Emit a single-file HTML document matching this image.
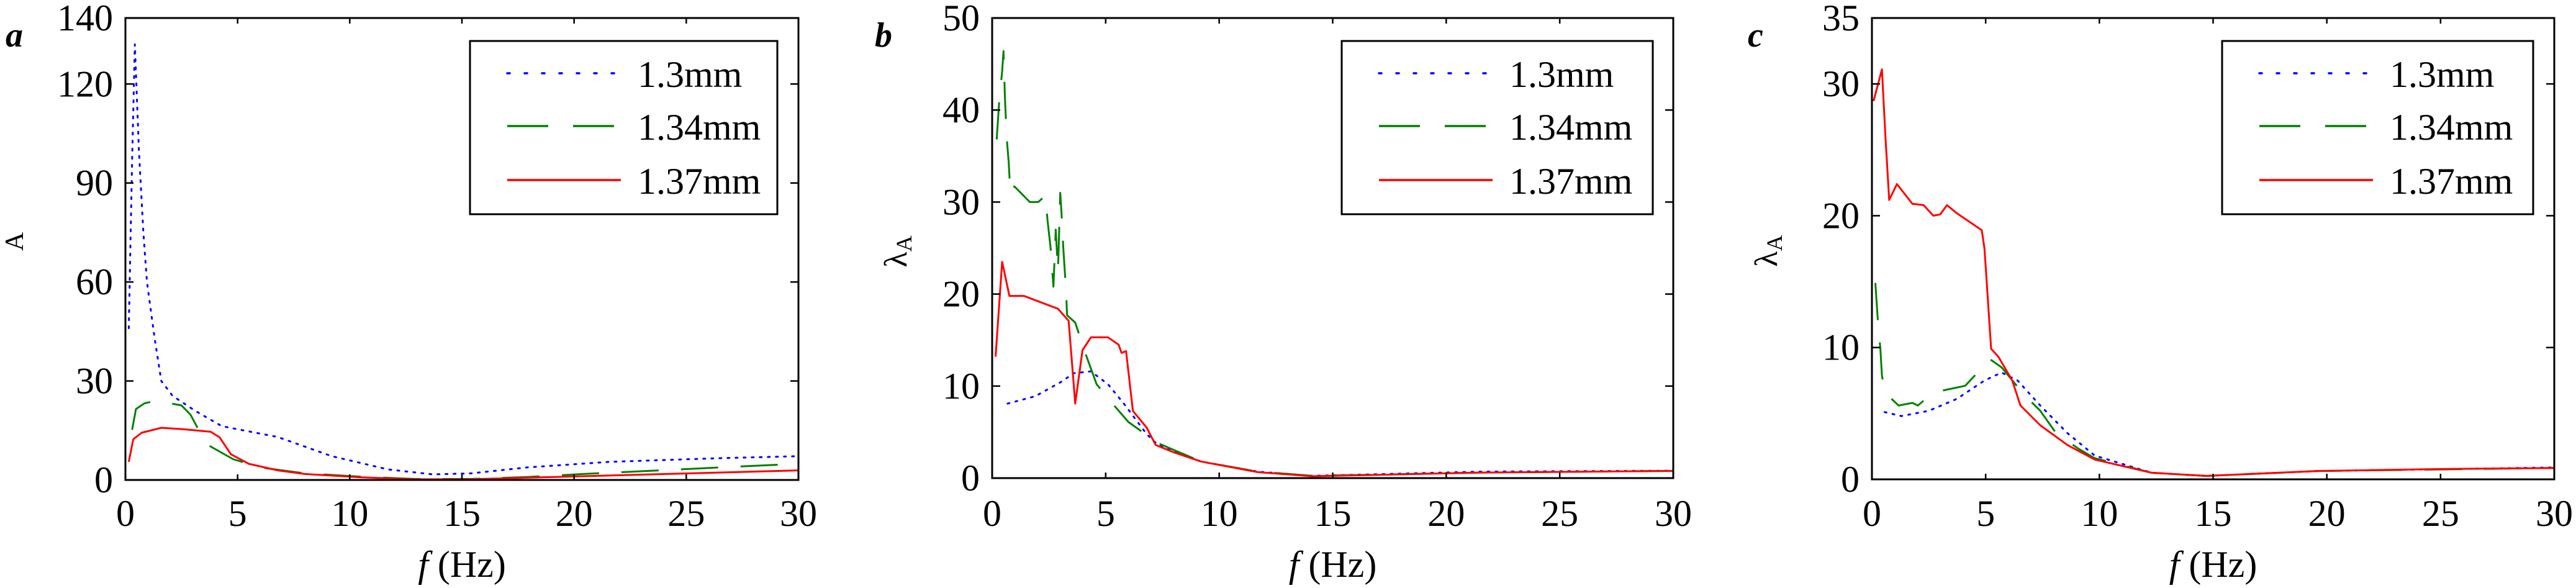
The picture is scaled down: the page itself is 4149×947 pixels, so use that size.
<!DOCTYPE html>
<html><head><meta charset="utf-8"><style>
html,body{margin:0;padding:0;background:#fff;}
svg{display:block;}
svg text{font-family:"Liberation Serif","Times New Roman",serif;}
</style></head><body>
<svg id="fig" width="4149" height="947" viewBox="0 0 4149 947" xmlns="http://www.w3.org/2000/svg" font-family="Liberation Serif, serif"></svg>
<script>
// ---- data (f in Hz, values) ----
const xTicks = [0,5,10,15,20,25,30];
const aYTicks = [0,30,60,90,120,140];
const bYTicks = [0,10,20,30,40,50];
const cYTicks = [0,10,20,30,35];
const seriesNames = ["1.3mm","1.34mm","1.37mm"];

const aBlueX = [0.15,0.3,0.42,0.6,0.8,0.96,1.3,1.6,2.1,3.1,4.3,6.8,9.2,11.7,13.7,15.4,17.9,21.6,26.5,30];
const aBlueY = [46,97,132,100,75,60,43,30,25.5,21,16.3,13,7.2,3.2,1.7,2,3.8,5.5,6.6,7.2];
const aGreenX = [0.3,0.47,0.84,1.33,2.5,2.9,3.6,4.8,6,8,10.5,12.9,15.4,17.9,20.4,24.1,26.5,30];
const aGreenY = [15.2,21.5,23.2,24,22.6,19.8,10.9,6.3,3.8,2,1,0.3,0.3,0.9,1.8,3,3.8,4.9];
const aRedX = [0.15,0.35,0.72,1.6,2.57,3.8,4.2,4.7,5.5,6.8,8,10.5,12.9,15.4,19.1,24.1,30];
const aRedY = [5.5,12.3,14.3,15.8,15.4,14.6,12.9,7.8,4.9,2.9,1.8,0.8,0.2,0.2,0.9,1.8,2.9];

const bBlueX = [0.68,1.9,3,3.6,4.35,5.1,5.8,6.8,7.3,9.2,11.7,14.1,16.6,21.5,30];
const bBlueY = [8.1,8.9,10.4,11.4,11.6,10.2,8.1,4.8,3.6,1.8,0.7,0.25,0.4,0.7,0.8];
const bGreenX = [0.2,0.32,0.44,0.5,0.56,0.64,0.73,0.8,0.98,1.66,2.03,2.35,2.44,2.57,2.7,2.8,2.9,3,3.08,3.13,3.25,3.3,3.66,4.1,4.6,5.3,6,7.3,9.2,11.7,14.1,16.6,21.5,30];
const bGreenY = [36.8,41.3,44.2,46.4,41.5,37,34.3,30.9,31.7,30,30,30.7,28,25.1,20.8,27,22.5,31,27.8,25.1,20.6,17.7,16.9,13.6,10.2,8.1,6.1,3.8,1.8,0.7,0.25,0.35,0.6,0.78];
const bRedX = [0.15,0.44,0.76,1.4,2.9,3.37,3.66,3.98,4.35,5.1,5.57,5.7,5.9,6.2,6.8,7.2,8,9.2,11.7,14.1,16.6,21.5,30];
const bRedY = [13.2,23.5,19.8,19.8,18.4,17.1,8.1,13.9,15.3,15.3,14.5,13.6,13.8,7.3,5.5,3.6,2.8,1.8,0.65,0.2,0.33,0.6,0.78];

const cBlueX = [0.56,1.3,2.5,3.73,4.95,5.7,6.4,7.4,8.6,9.8,12.3,14.7,19.6,30];
const cBlueY = [5.1,4.8,5.2,6.1,7.5,8.1,7.5,5.6,3.5,1.8,0.5,0.26,0.63,0.9];
const cGreenX = [0.15,0.27,0.37,0.44,0.56,1.17,1.78,2.02,2.5,3,4.1,4.7,5.2,5.7,6.65,7.4,8.1,9.1,9.8,12.3,14.7,19.6,30];
const cGreenY = [14.9,11.8,9.9,7.9,6.6,5.6,5.8,5.6,6.3,6.7,7.1,8.2,9.1,8.5,6.5,5.2,3.5,2.3,1.6,0.5,0.26,0.63,0.86];
const cRedX = [0.07,0.44,0.6,0.76,1.1,1.78,2.27,2.7,3,3.3,3.73,4.83,4.95,5.24,5.56,6.17,6.53,7.4,8.6,9.8,12.3,14.7,19.6,24.4,30];
const cRedY = [28.7,31.1,25.8,21.2,22.4,20.9,20.8,20,20.1,20.8,20.2,18.9,17.5,9.9,9.3,7.5,5.6,4.1,2.6,1.5,0.5,0.26,0.63,0.77,0.86];

const NS = "http://www.w3.org/2000/svg";
const svg = document.getElementById("fig");
function mk(tag, attrs, parent){
  const e = document.createElementNS(NS, tag);
  for (const k in attrs) e.setAttribute(k, attrs[k]);
  (parent||svg).appendChild(e);
  return e;
}
function txt(str, x, y, anchor, size, parent){
  const t = mk("text", {x:x, y:y, "text-anchor":anchor, "font-size":size, fill:"#000"}, parent);
  t.textContent = str;
  return t;
}
const styles = [
  {color:"#0000ff", dash:"3 10", cap:"round", w:3},
  {color:"#008000", dash:"60 36", cap:"butt", w:3},
  {color:"#ff0000", dash:"", cap:"butt", w:3}
];

function panel(cfg){
  const g = mk("g", {});
  
  
  const {L,R,T,B,ymax} = cfg;
  const sx = v => L + (v/30)*(R-L);
  const sy = v => B - (v/ymax)*(B-T);
  const cp = mk("clipPath", {id:"clip"+cfg.id}, g);
  mk("rect", {x:L, y:T, width:R-L, height:B-T}, cp);
  cfg.series.forEach((s, i) => {
    const st = styles[i];
    const d = s.x.map((v,j) => (j?"L":"M") + sx(v).toFixed(1) + "," + sy(s.y[j]).toFixed(1)).join(" ");
    const p = mk("path", {d, fill:"none", stroke:st.color, "stroke-width":st.w, "stroke-linecap":st.cap, "stroke-linejoin":"round", "clip-path":`url(#clip${cfg.id})`}, g);
    if (st.dash) p.setAttribute("stroke-dasharray", st.dash);
    
    
  });
  const box = mk("rect", {x:L, y:T, width:R-L, height:B-T, fill:"none", stroke:"#000", "stroke-width":3}, g);
  
  
  xTicks.forEach(v => {
    const x = sx(v);
    mk("line", {x1:x, y1:B, x2:x, y2:B-9, stroke:"#000", "stroke-width":2.5}, g);
    mk("line", {x1:x, y1:T, x2:x, y2:T+9, stroke:"#000", "stroke-width":2.5}, g);
    const t = txt(String(v), x, 847, "middle", 60, g);
    
    
  });
  cfg.yticks.forEach(v => {
    const y = sy(v);
    mk("line", {x1:L, y1:y, x2:L+13, y2:y, stroke:"#000", "stroke-width":2.5}, g);
    mk("line", {x1:R, y1:y, x2:R-13, y2:y, stroke:"#000", "stroke-width":2.5}, g);
    const t = txt(String(v), L-20, y+20, "end", 60, g);
    
    
  });
  const xt = mk("text", {x:(L+R)/2, y:929, "text-anchor":"middle", "font-size":60}, g);
  xt.innerHTML = '<tspan font-style="italic">f</tspan> (Hz)';
  
  
  const yt = mk("text", {transform:`translate(${cfg.ylx},${cfg.yly}) rotate(-90)`, "text-anchor":"middle", "font-size":cfg.ylSize}, g);
  yt.innerHTML = cfg.ylabel;
  
  
  const pl = mk("text", {x:cfg.lx, y:75, "font-size":56, "font-style":"italic", "font-weight":"bold"}, g);
  pl.textContent = cfg.id;
  
  
  const lg = mk("g", {}, g);
  
  
  const lx = cfg.legL;
  mk("rect", {x:lx, y:66, width:cfg.legW, height:279, fill:"#fff", stroke:"#000", "stroke-width":3}, lg);
  [118, 203, 290].forEach((cy, i) => {
    const st = styles[i];
    const e = mk("g", {}, lg);
    
    
    const ln = mk("line", {x1:lx+60, y1:cy, x2:lx+243, y2:cy, stroke:st.color, "stroke-width":st.w+0.5, "stroke-linecap":st.cap}, e);
    if (st.dash) ln.setAttribute("stroke-dasharray", i==1 ? "66 40" : "4 24");
    txt(seriesNames[i], lx+270, cy+22, "start", 60, e);
  });
}

const lam = '<tspan font-size="52">λ</tspan><tspan font-size="36" dy="8">A</tspan>';
panel({id:"a", L:202, R:1286, T:29, B:773, ymax:140, yticks:aYTicks, ylabel:"A", ylSize:42, ylx:37, yly:389, lx:9, legL:757, legW:495,
  series:[{x:aBlueX,y:aBlueY},{x:aGreenX,y:aGreenY},{x:aRedX,y:aRedY}]});
panel({id:"b", L:1598, R:2695, T:29, B:770, ymax:50, yticks:bYTicks, ylabel:lam, ylSize:52, ylx:1460, yly:405, lx:1409, legL:2161, legW:501,
  series:[{x:bBlueX,y:bBlueY},{x:bGreenX,y:bGreenY},{x:bRedX,y:bRedY}]});
panel({id:"c", L:3015, R:4114, T:29, B:772, ymax:35, yticks:cYTicks, ylabel:lam, ylSize:52, ylx:2862, yly:404, lx:2815, legL:3579, legW:501,
  series:[{x:cBlueX,y:cBlueY},{x:cGreenX,y:cGreenY},{x:cRedX,y:cRedY}]});
</script>
</body></html>
